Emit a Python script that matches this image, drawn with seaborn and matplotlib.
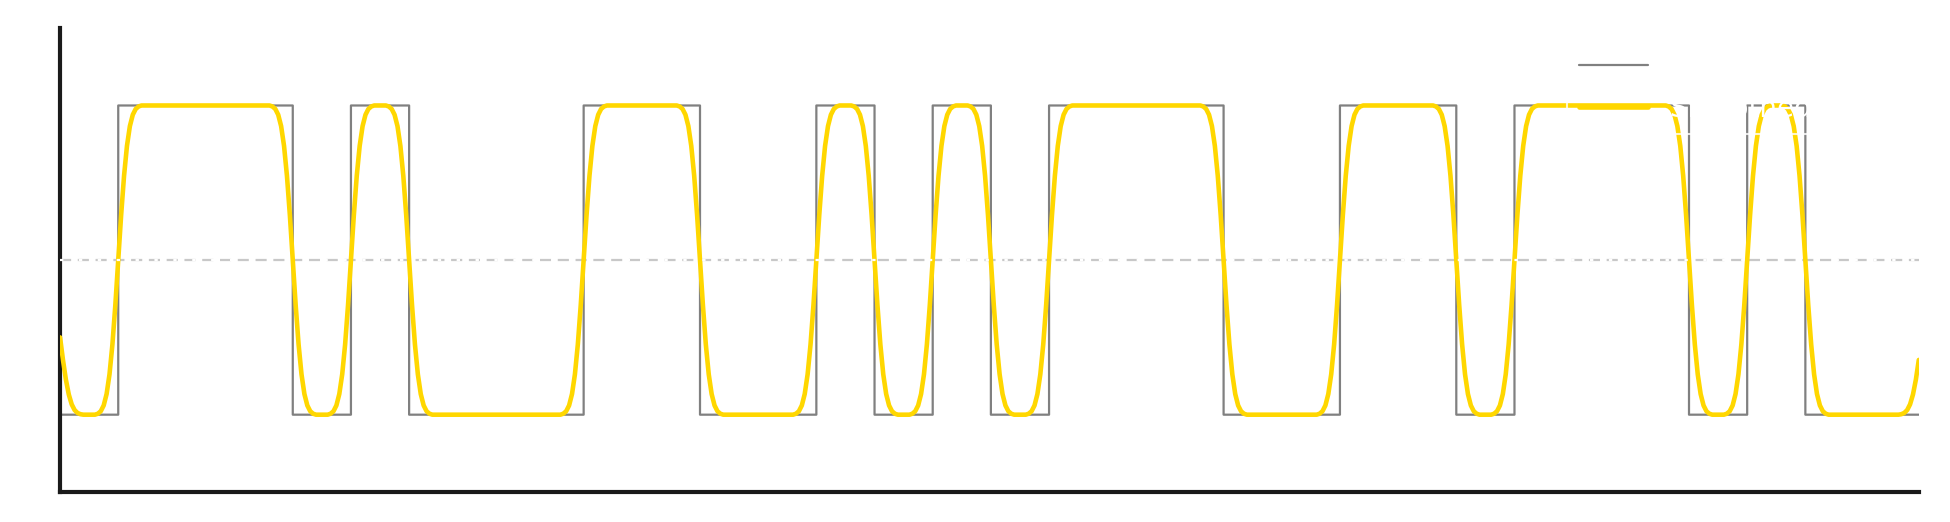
import numpy as np
import pandas as pd
import matplotlib
matplotlib.use("Agg")
import matplotlib.pyplot as plt
import seaborn as sns

# bit pattern read from the square wave (32 bits, low = 0, high = 1)
bits = [0, 1, 1, 1, 0, 1, 0, 0, 0, 1, 1, 0, 0, 1, 0, 1,
        0, 1, 1, 1, 0, 0, 1, 1, 0, 1, 1, 1, 0, 1, 0, 0]
samples_per_bit = 20
sigma = 2.7  # gaussian smoothing width, in samples
legend_labels = ["Square wave", "Smoothed wave"]

# build signals from the bits
square = np.repeat(np.where(np.array(bits) == 1, 1.0, -1.0), samples_per_bit)
t = np.arange(len(square)) / samples_per_bit
offsets = np.arange(16) - 7.5
kernel = np.exp(-0.5 * (offsets / sigma) ** 2)
kernel = kernel / kernel.sum()
smooth = np.convolve(square, kernel, mode="same")

df = pd.DataFrame({"t": t, "square": square, "smooth": smooth})

sns.set_style("white")
fig, ax = plt.subplots(figsize=(19.5, 5.22), dpi=100)
fig.subplots_adjust(left=0.0308, right=0.984, bottom=0.0575, top=0.946)

# mid threshold line
ax.axhline(0, color="#c8c8c8", lw=1.6, ls=(0, (5, 3)), zorder=1)

sns.lineplot(data=df, x="t", y="square", ax=ax, color="#808080", lw=1.6,
             drawstyle="steps-post", label=legend_labels[0], zorder=2)
sns.lineplot(data=df, x="t", y="smooth", ax=ax, color="#FFD700", lw=3.3,
             label=legend_labels[1], zorder=3)

# white dashes on top of the threshold line
ax.axhline(0, color="white", lw=1.6, ls=(0, (1.5, 7)), zorder=4)

ax.set_xlim(t.min(), t.max())
ax.set_ylim(-1.5, 1.5)
ax.set_xticks([])
ax.set_yticks([])
ax.set_xlabel("")
ax.set_ylabel("")
sns.despine(ax=ax)
for side in ["left", "bottom"]:
    ax.spines[side].set_linewidth(3)
    ax.spines[side].set_color("#1a1a1a")

leg = ax.legend(loc="upper right", fontsize=20, labelcolor="white",
                facecolor="none", edgecolor="white", handlelength=2.5)
leg.get_frame().set_linewidth(1.5)

fig.savefig("out.png", dpi=100)
plt.close(fig)
